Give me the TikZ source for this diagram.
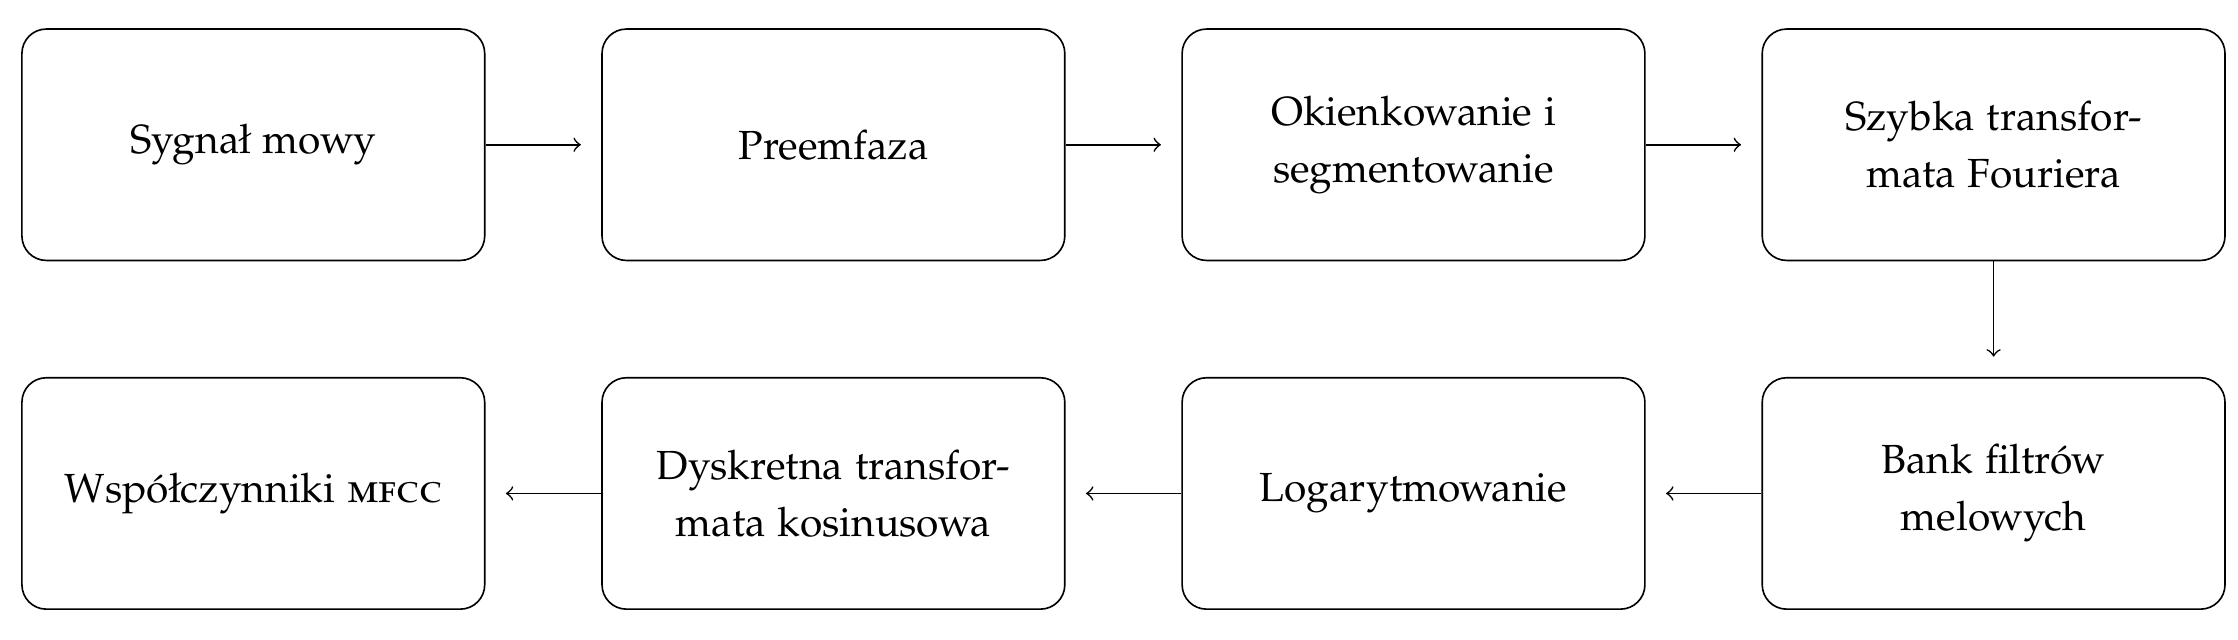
\documentclass[tikz,border=0pt,10pt]{standalone}
\usepackage[T1]{fontenc}
\IfFileExists{mathpazo.sty}{\usepackage[sc]{mathpazo}}{%
  \IfFileExists{newpxtext.sty}{\usepackage{newpxtext}}{%
    \IfFileExists{palatino.sty}{\usepackage{palatino}}{}}}
\linespread{1.17}
\usetikzlibrary{positioning}

\begin{document}
\begin{tikzpicture}[->, shorten >= 5pt, node distance=1cm]
	\tikzstyle{block}=[draw=black, rectangle, rounded corners=6pt, minimum width=4cm, minimum height=2cm, align=center, inner sep=0pt]
	
	\useasboundingbox (-62.3pt,35.6pt) rectangle (488.1pt,-121.6pt);
	
	\node[block] (b1) {Sygna\l{} mowy};
	\node[block, right=of b1] (b2) {Preemfaza};
	\node[block, right=of b2] (b3) {Okienkowanie i\\segmentowanie};
	\node[block, right=of b3] (b4) {Szybka transfor-\\mata Fouriera};
	\node[block, below=of b4] (b5) {Bank filtr\'ow\\melowych};
	\node[block, left=of b5] (b6) {Logarytmowanie};
	\node[block, left=of b6] (b7) {Dyskretna transfor-\\mata kosinusowa};
	\node[block, left=of b7] (b8) {Wsp\'o\l{}czynniki \textsc{mfcc}};
	
	\path (b1) edge (b2);
	\path (b2) edge (b3);
	\path (b3) edge (b4);
	\path (b4) edge (b5);
	\path (b5) edge (b6);
	\path (b6) edge (b7);
	\path (b7) edge (b8);
\end{tikzpicture}
\end{document}
